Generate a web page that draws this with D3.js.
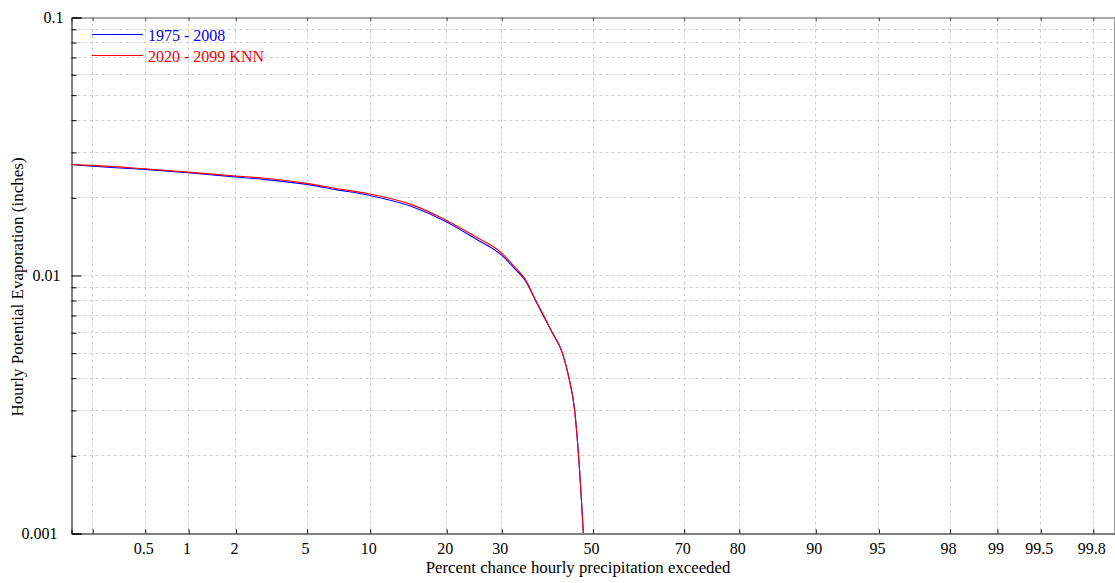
<!DOCTYPE html>
<html>
<head>
<meta charset="utf-8">
<script src="https://cdn.jsdelivr.net/npm/d3@7"></script>
<style>
body{margin:0;background:#fff;}
svg text{font-family:"Liberation Serif","Times New Roman",serif;fill:#000;}
</style>
</head>
<body>
<div id="chart"></div>
<script>
// x ticks (percent exceeded), probability scale
var pctTicks=[0.2,0.5,1,2,5,10,20,30,50,70,80,90,95,98,99,99.5,99.8];
var pctLabels=["","0.5","1","2","5","10","20","30","50","70","80","90","95","98","99","99.5","99.8"];
// y ticks (log)
var yMajor=[0.001,0.01,0.1];
var yLabels=["0.001","0.01","0.1"];
var seriesNames=["1975 - 2008","2020 - 2099 KNN"];
var seriesColors=["#0000ff","#ff0000"];

var pct=[0.135,0.2,0.5,1,2,3,5,7,10,15,20,25,30,33,35,37,38.9,40.8,43.1,44.6,45.9,46.8,47.9];
var pevHist=[0.0268,0.0264,0.02566,0.0249,0.0240,0.02343,0.02245,0.02143,0.02034,0.0184,0.0161,0.01385,0.01196,0.01045,0.00948,0.00807,0.00694,0.0060,0.0050,0.0040,0.0030,0.0020,0.0010];
var pevFut=[0.0268,0.0266,0.0258,0.02505,0.0242,0.0237,0.02265,0.02165,0.0206,0.0187,0.0163,0.0141,0.0122,0.0106,0.0096,0.0081,0.0070,0.0060,0.0050,0.0040,0.0030,0.0020,0.0010];

var W=1115,H=583;
var pLeft=71,pRight=1114,pTop=17,pBottom=533;

//inverse normal cdf (Acklam)
function probit(p){
	var a=[-3.969683028665376e+01,2.209460984245205e+02,-2.759285104469687e+02,1.383577518672690e+02,-3.066479806614716e+01,2.506628277459239e+00];
	var b=[-5.447609879822406e+01,1.615858368580409e+02,-1.556989798598866e+02,6.680131188771972e+01,-1.328068155288572e+01];
	var c=[-7.784894002430293e-03,-3.223964580411365e-01,-2.400758277161838e+00,-2.549732539343734e+00,4.374664141464968e+00,2.938163982698783e+00];
	var d=[7.784695709041462e-03,3.224671290700398e-01,2.445134137142996e+00,3.754408661907416e+00];
	var q,r;
	if(p<0.02425){
		q=Math.sqrt(-2*Math.log(p));
		return (((((c[0]*q+c[1])*q+c[2])*q+c[3])*q+c[4])*q+c[5])/((((d[0]*q+d[1])*q+d[2])*q+d[3])*q+1);
	}
	if(p>1-0.02425){
		q=Math.sqrt(-2*Math.log(1-p));
		return -(((((c[0]*q+c[1])*q+c[2])*q+c[3])*q+c[4])*q+c[5])/((((d[0]*q+d[1])*q+d[2])*q+d[3])*q+1);
	}
	q=p-0.5;r=q*q;
	return (((((a[0]*r+a[1])*r+a[2])*r+a[3])*r+a[4])*r+a[5])*q/(((((b[0]*r+b[1])*r+b[2])*r+b[3])*r+b[4])*r+1);
}

var svg=d3.select("#chart").append("svg").attr("width",W).attr("height",H);

var xz=d3.scaleLinear().domain([-3,3]).range([pLeft,pRight]);
var x=function(p){return xz(probit(p/100));};
var y=d3.scaleLog().domain([0.001,0.1]).range([pBottom,pTop]);

var yMinor=[];
[0.001,0.01].forEach(function(dec){
	for(var k=2;k<10;k++)yMinor.push(dec*k);
});

var g=svg.append("g").attr("transform","translate(0.5,0.5)");

//***************************
//GRID
//***************************
var grid=g.append("g").attr("stroke","#cfcfcf").attr("stroke-dasharray","3,3").attr("stroke-width",1);
grid.selectAll(".vg").data(pctTicks).enter().append("line")
	.attr("x1",function(d){return Math.round(x(d));}).attr("x2",function(d){return Math.round(x(d));})
	.attr("y1",pTop).attr("y2",pBottom);
grid.selectAll(".hg").data(yMinor.concat([0.01])).enter().append("line")
	.attr("x1",pLeft).attr("x2",pRight)
	.attr("y1",function(d){return Math.round(y(d));}).attr("y2",function(d){return Math.round(y(d));});

//***************************
//LINES
//***************************
svg.append("clipPath").attr("id","clip").append("rect")
	.attr("x",pLeft).attr("y",pTop).attr("width",pRight-pLeft).attr("height",pBottom-pTop+1);
var gl=svg.append("g").attr("clip-path","url(#clip)");
var series=[pevHist,pevFut];
series.forEach(function(vals,s){
	var line=d3.line()
		.curve(d3.curveMonotoneX)
		.x(function(d,i){return x(pct[i]);})
		.y(function(d){return y(d);});
	gl.append("path")
		.attr("d",line(vals))
		.attr("fill","none")
		.attr("stroke",seriesColors[s])
		.attr("stroke-width",1.1);
});

//***************************
//AXES
//***************************
var zt=pctTicks.map(function(p){return probit(p/100);});
var botAxis=d3.axisBottom(xz).tickValues(zt).tickSize(-4).tickPadding(9)
	.tickFormat(function(d,i){return pctLabels[i];});
var gb=g.append("g").attr("transform","translate(0,"+pBottom+")").call(botAxis);
gb.select(".domain").attr("stroke","#000");
gb.selectAll("text").attr("font-size","16px").attr("dx","-2");

var topAxis=d3.axisTop(xz).tickValues(zt).tickSize(-4).tickFormat("");
var gt=g.append("g").attr("transform","translate(0,"+pTop+")").call(topAxis);
gt.select(".domain").attr("stroke","#555");
gt.selectAll(".tick line").attr("stroke","#555");

var leftMinor=d3.axisLeft(y).tickValues(yMinor).tickSize(-5).tickFormat("");
var glm=g.append("g").attr("transform","translate("+pLeft+",0)").call(leftMinor);
glm.select(".domain").remove();

var leftAxis=d3.axisLeft(y).tickValues(yMajor).tickSize(-10).tickPadding(8)
	.tickFormat(function(d,i){return yLabels[i];});
var gla=g.append("g").attr("transform","translate("+pLeft+",0)").call(leftAxis);
gla.select(".domain").attr("stroke","#000");
gla.selectAll("text").attr("font-size","16px")
	.attr("dx",function(d,i){return -(yLabels[i].length-3)*3;});

g.append("line").attr("x1",pRight).attr("x2",pRight).attr("y1",pTop).attr("y2",pBottom).attr("stroke","#999");

//***************************
//LABELS
//***************************
svg.append("text")
	.attr("x",578).attr("y",573)
	.attr("text-anchor","middle").attr("font-size","16.8px")
	.text("Percent chance hourly precipitation exceeded");
svg.append("text")
	.attr("transform","translate(23,287) rotate(-90)")
	.attr("text-anchor","middle").attr("font-size","17px")
	.text("Hourly Potential Evaporation (inches)");

//***************************
//LEGEND
//***************************
var lg=svg.append("g");
seriesNames.forEach(function(name,i){
	var yy=34.5+i*21;
	lg.append("line").attr("x1",92).attr("x2",143).attr("y1",yy).attr("y2",yy)
		.attr("stroke",seriesColors[i]).attr("stroke-width",1.2);
	lg.append("text").attr("x",148).attr("y",yy+6)
		.attr("font-size","16px")
		.style("fill",seriesColors[i])
		.text(name);
});
</script>
</body>
</html>
